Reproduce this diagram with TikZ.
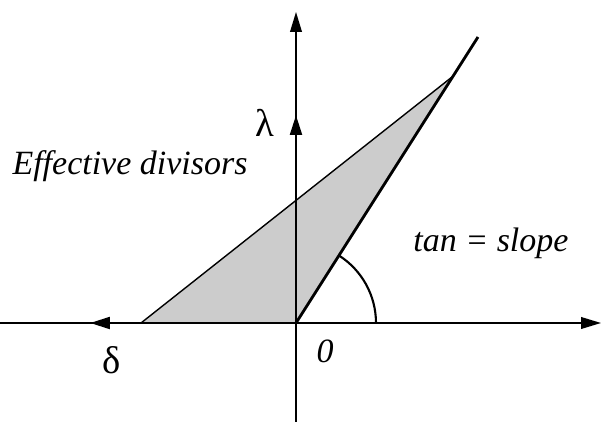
\documentclass[tikz,border=0pt]{standalone}
\usepackage{fontspec}
\setmainfont{Liberation Serif}
\usetikzlibrary{arrows.meta}

\tikzset{
  axisline/.style={line width=1.2pt},
  boldline/.style={line width=2.4pt},
  tip/.style={-{Triangle[length=17pt,width=10pt]}},
  bigtext/.style={font=\fontsize{29}{34}\selectfont},
  greek/.style={font=\fontsize{33}{38}\selectfont},
}

\begin{document}
\begin{tikzpicture}[x=0.03cm, y=0.03cm]
      \useasboundingbox (-296,-101) rectangle (307,323);

      % Points
      \coordinate (O) at (0,0);
      \coordinate (xend) at (305,0);
      \coordinate (xstart) at (-296,0);
      \coordinate (ytop) at (0,311);
      \coordinate (ybot) at (0,-99);
      \coordinate (dtip) at (-206,0);
      \coordinate (ltip) at (0,208);
      \coordinate (left) at (-155,0);
      \coordinate (apex) at (156,246);
      \coordinate (rayend) at (182,286);

      % Cone
      \fill[gray!40] (left) -- (O) -- (apex) -- cycle;
      \draw[axisline] (left) -- (apex);

      % Axes
      \draw[axisline, tip] (xstart) -- (xend);
      \draw[axisline, tip] (ybot) -- (ytop);

      % Generators
      \draw[boldline, tip] (O) -- (dtip);
      \draw[boldline, tip] (O) -- (ltip);
      \draw[boldline] (O) -- (rayend);
      \draw[boldline] (left) -- (O);

      % Angle
      \draw[line width=1.8pt] (80,0) arc[start angle=0, end angle=57.5, radius=80];

      % Labels
      \node[greek] (lam) at (-31,200) {λ};
      \node[greek] (del) at (-184,-37) {δ};
      \node[bigtext] (zero) at (29,-28) {\itshape 0};
      \node[bigtext] (eff) at (-166,157) {\itshape Effective divisors};
      \node[bigtext] (slp) at (195,80) {\itshape tan = slope};
\end{tikzpicture}
\end{document}
